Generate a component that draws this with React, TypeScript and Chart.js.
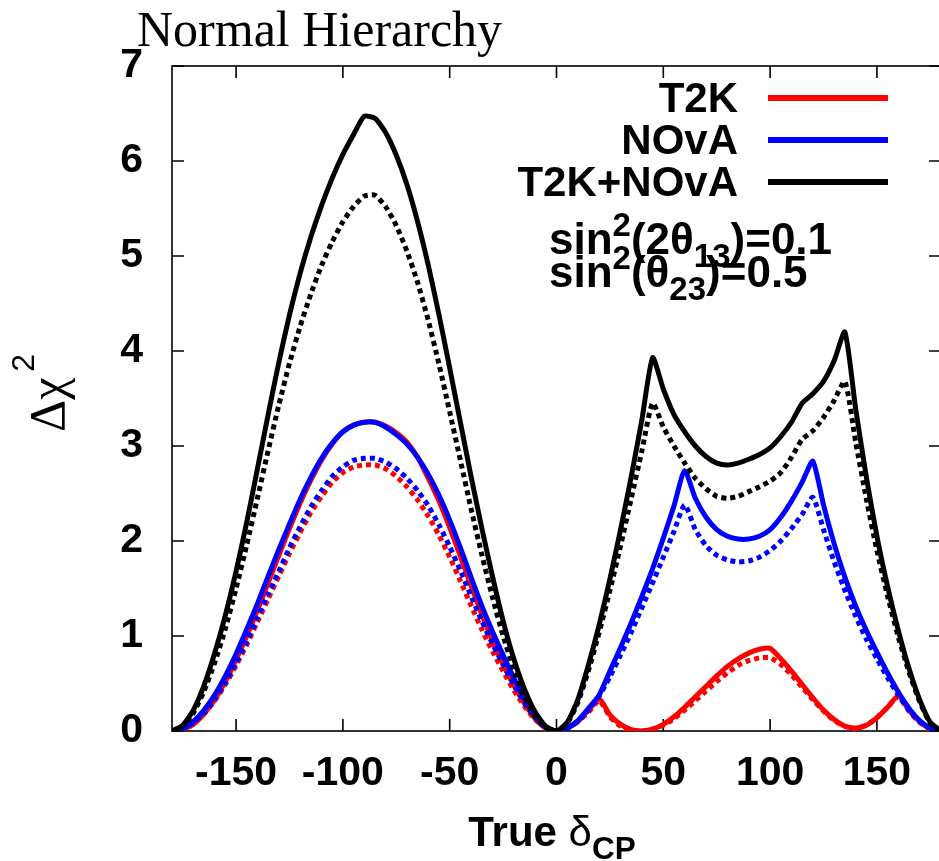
import React, { useEffect, useRef } from 'react';
import { Chart, registerables } from 'chart.js';

Chart.register(...registerables);

// True delta_CP grid (degrees)
const deltaCP = [
  -180, -175, -170, -165, -160, -155, -150, -145, -140, -135, -130, -125, -120, -115, -110, -105, -100, -95, -90,
  -85, -80, -75, -70, -65, -60, -55, -50, -45, -40, -35, -30, -25, -20, -15, -10, -5, 0,
  5, 10, 15, 20, 25, 30, 35, 40, 45, 50, 55, 60, 65, 70, 75, 80, 85, 90,
  95, 100, 105, 110, 115, 120, 125, 130, 135, 140, 145, 150, 155, 160, 165, 170, 175, 180,
];

// T2K (red)
const t2kSolid = [
  0, 0.02, 0.07, 0.18, 0.33, 0.52, 0.75, 1.0, 1.27, 1.56, 1.85, 2.13, 2.4, 2.64, 2.85, 3.02, 3.15, 3.22, 3.25,
  3.25, 3.21, 3.14, 3.04, 2.88, 2.66, 2.42, 2.14, 1.84, 1.53, 1.23, 0.95, 0.7, 0.48, 0.29, 0.13, 0.03, 0,
  0.03, 0.1, 0.22, 0.34, 0.17, 0.07, 0.015, 0.0, 0.02, 0.07, 0.15, 0.25, 0.36, 0.47, 0.58, 0.68, 0.76, 0.82,
  0.86, 0.87, 0.76, 0.63, 0.49, 0.35, 0.22, 0.12, 0.05, 0.03, 0.06, 0.14, 0.25, 0.37, 0.22, 0.1, 0.02, 0,
];
const t2kDotted = [
  0, 0.02, 0.08, 0.18, 0.32, 0.49, 0.69, 0.91, 1.15, 1.39, 1.63, 1.87, 2.09, 2.3, 2.47, 2.62, 2.72, 2.78, 2.8,
  2.8, 2.76, 2.68, 2.57, 2.43, 2.26, 2.06, 1.83, 1.58, 1.32, 1.07, 0.84, 0.63, 0.43, 0.26, 0.12, 0.03, 0,
  0.03, 0.1, 0.2, 0.32, 0.15, 0.05, 0.01, 0.0, 0.02, 0.06, 0.13, 0.22, 0.32, 0.42, 0.52, 0.61, 0.69, 0.74,
  0.77, 0.77, 0.7, 0.59, 0.46, 0.33, 0.21, 0.11, 0.05, 0.03, 0.06, 0.14, 0.25, 0.36, 0.21, 0.09, 0.02, 0,
];

// NOvA (blue)
const novaSolid = [
  0, 0.025, 0.1, 0.22, 0.38, 0.58, 0.81, 1.07, 1.34, 1.63, 1.91, 2.18, 2.44, 2.67, 2.87, 3.03, 3.15, 3.22, 3.25,
  3.25, 3.2, 3.12, 3.02, 2.88, 2.7, 2.48, 2.22, 1.93, 1.62, 1.32, 1.05, 0.8, 0.56, 0.34, 0.16, 0.04, 0,
  0.03, 0.11, 0.24, 0.38, 0.63, 0.88, 1.14, 1.42, 1.71, 2.03, 2.37, 2.74, 2.45, 2.25, 2.12, 2.05, 2.02, 2.02,
  2.05, 2.12, 2.25, 2.42, 2.62, 2.84, 2.38, 1.97, 1.62, 1.32, 1.06, 0.83, 0.61, 0.41, 0.24, 0.11, 0.03, 0,
];
const novaDotted = [
  0, 0.02, 0.087, 0.19, 0.34, 0.51, 0.72, 0.94, 1.19, 1.44, 1.68, 1.93, 2.15, 2.36, 2.53, 2.68, 2.78, 2.85, 2.87,
  2.87, 2.83, 2.76, 2.66, 2.53, 2.37, 2.17, 1.94, 1.69, 1.42, 1.16, 0.92, 0.7, 0.49, 0.3, 0.14, 0.035, 0,
  0.03, 0.1, 0.22, 0.37, 0.57, 0.8, 1.04, 1.3, 1.56, 1.83, 2.1, 2.38, 2.12, 1.95, 1.85, 1.8, 1.78, 1.79,
  1.83, 1.9, 2.0, 2.13, 2.28, 2.46, 2.12, 1.78, 1.48, 1.21, 0.97, 0.76, 0.56, 0.38, 0.22, 0.1, 0.03, 0,
];

// T2K+NOvA (black)
const combinedSolid = [
  0, 0.06, 0.22, 0.48, 0.82, 1.22, 1.68, 2.2, 2.76, 3.33, 3.88, 4.38, 4.82, 5.2, 5.53, 5.82, 6.07, 6.28, 6.47,
  6.45, 6.3, 6.06, 5.75, 5.36, 4.9, 4.38, 3.82, 3.25, 2.68, 2.14, 1.63, 1.16, 0.76, 0.44, 0.2, 0.05, 0,
  0.09, 0.33, 0.7, 1.12, 1.6, 2.12, 2.68, 3.28, 3.93, 3.6, 3.33, 3.15, 3.0, 2.89, 2.82, 2.8, 2.82, 2.86,
  2.91, 2.98, 3.1, 3.25, 3.45, 3.55, 3.68, 3.9, 4.2, 3.4, 2.68, 2.05, 1.52, 1.06, 0.66, 0.33, 0.09, 0,
];
const combinedDotted = [
  0, 0.05, 0.19, 0.42, 0.72, 1.08, 1.5, 1.96, 2.45, 2.95, 3.43, 3.87, 4.26, 4.6, 4.9, 5.15, 5.36, 5.52, 5.63,
  5.64, 5.52, 5.32, 5.05, 4.72, 4.32, 3.86, 3.36, 2.85, 2.34, 1.86, 1.41, 1.0, 0.65, 0.36, 0.15, 0.035, 0,
  0.08, 0.3, 0.64, 1.04, 1.48, 1.95, 2.45, 2.95, 3.45, 3.2, 3.0, 2.82, 2.66, 2.55, 2.47, 2.45, 2.47, 2.52,
  2.57, 2.63, 2.72, 2.88, 3.07, 3.16, 3.3, 3.48, 3.68, 3.05, 2.45, 1.9, 1.42, 0.99, 0.62, 0.31, 0.08, 0,
];

const xTickValues = [-150, -100, -50, 0, 50, 100, 150];
const yTickValues = [0, 1, 2, 3, 4, 5, 6, 7];
const legendLabels = ['T2K', 'NOvA', 'T2K+NOvA'];
const seriesColors = ['#ff0000', '#0000ff', '#000000'];
const titleText = 'Normal Hierarchy';

const SANS = '"Liberation Sans", Arial, Helvetica, sans-serif';
const SERIF = '"Liberation Serif", "Times New Roman", serif';

type Piece = { t: string; k: 'n' | 'sup' | 'sub' | 'sym' };

function pieceFont(p: Piece, size: number) {
  const fs = p.k === 'sup' || p.k === 'sub' ? size * 0.75 : size;
  const weight = p.k === 'sym' ? '' : 'bold ';
  return `${weight}${fs}px ${SANS}`;
}

function drawRich(ctx: CanvasRenderingContext2D, x: number, y: number, pieces: Piece[], size: number) {
  let cx = x;
  for (const p of pieces) {
    let dy = 0;
    if (p.k === 'sup') dy = -size * 0.42;
    if (p.k === 'sub') dy = size * 0.3;
    ctx.font = pieceFont(p, size);
    ctx.fillText(p.t, cx, y + dy);
    cx += ctx.measureText(p.t).width;
  }
  return cx - x;
}

function measureRich(ctx: CanvasRenderingContext2D, pieces: Piece[], size: number) {
  let w = 0;
  for (const p of pieces) {
    ctx.font = pieceFont(p, size);
    w += ctx.measureText(p.t).width;
  }
  return w;
}

const framePlugin = {
  id: 'frameTicks',
  beforeDatasetsDraw(chart: any) {
    const { ctx, chartArea: a, scales } = chart;
    const xs = scales.x;
    const ys = scales.y;
    ctx.save();
    ctx.strokeStyle = '#000';
    ctx.lineWidth = 1.6;
    ctx.strokeRect(a.left, a.top, a.right - a.left, a.bottom - a.top);
    const L = 12;
    ctx.beginPath();
    for (const v of xTickValues) {
      const px = xs.getPixelForValue(v);
      ctx.moveTo(px, a.bottom);
      ctx.lineTo(px, a.bottom - L);
      ctx.moveTo(px, a.top);
      ctx.lineTo(px, a.top + L);
    }
    for (const v of yTickValues) {
      const py = ys.getPixelForValue(v);
      ctx.moveTo(a.left, py);
      ctx.lineTo(a.left + L, py);
      ctx.moveTo(a.right, py);
      ctx.lineTo(a.right - L, py);
    }
    ctx.stroke();
    ctx.restore();
  },
};

const textPlugin = {
  id: 'texts',
  afterDraw(chart: any) {
    const ctx: CanvasRenderingContext2D = chart.ctx;
    ctx.save();
    ctx.fillStyle = '#000';

    // Title
    ctx.font = `50px ${SERIF}`;
    ctx.textAlign = 'left';
    ctx.textBaseline = 'alphabetic';
    ctx.fillText(titleText, 137, 46);

    // Legend
    ctx.textAlign = 'right';
    legendLabels.forEach((lab, i) => {
      const yc = 97 + i * 42;
      ctx.font = `bold 42px ${SANS}`;
      ctx.fillText(lab, 738, yc + 15);
      ctx.strokeStyle = seriesColors[i];
      ctx.lineWidth = 6;
      ctx.beginPath();
      ctx.moveTo(768, yc + 1);
      ctx.lineTo(888, yc + 1);
      ctx.stroke();
    });

    // Parameter annotation
    ctx.textAlign = 'left';
    drawRich(ctx, 549, 254, [
      { t: 'sin', k: 'n' }, { t: '2', k: 'sup' }, { t: '(2θ', k: 'n' }, { t: '13', k: 'sub' }, { t: ')=0.1', k: 'n' },
    ], 44);
    drawRich(ctx, 549, 287, [
      { t: 'sin', k: 'n' }, { t: '2', k: 'sup' }, { t: '(θ', k: 'n' }, { t: '23', k: 'sub' }, { t: ')=0.5', k: 'n' },
    ], 44);

    // X axis title
    const xt: Piece[] = [{ t: 'True ', k: 'n' }, { t: 'δ', k: 'sym' }, { t: 'CP', k: 'sub' }];
    const w = measureRich(ctx, xt, 42);
    drawRich(ctx, 552 - w / 2, 846, xt, 42);

    // Y axis title (rotated)
    ctx.translate(64, 432);
    ctx.rotate(-Math.PI / 2);
    ctx.font = `50px ${SERIF}`;
    ctx.fillText('Δχ', 0, 0);
    const wy = ctx.measureText('Δχ').width;
    ctx.font = `32px ${SANS}`;
    ctx.fillText('2', wy + 6, -30);

    ctx.restore();
  },
};

function buildDataset(label: string, values: number[], color: string, dashed: boolean, order: number) {
  return {
    label,
    data: deltaCP.map((x, i) => ({ x, y: values[i] })),
    borderColor: color,
    backgroundColor: color,
    borderWidth: 5,
    borderDash: dashed ? [5, 4] : [],
    borderCapStyle: 'butt',
    borderJoinStyle: 'round',
    pointRadius: 0,
    tension: 0.2,
    fill: false,
    order,
  };
}

export default function App() {
  const canvasRef = useRef<HTMLCanvasElement | null>(null);

  useEffect(() => {
    if (!canvasRef.current) return;
    const chart = new Chart(canvasRef.current, {
      type: 'line',
      data: {
        datasets: [
          buildDataset('T2K+NOvA', combinedSolid, seriesColors[2], false, 1),
          buildDataset('T2K+NOvA (dotted)', combinedDotted, seriesColors[2], true, 2),
          buildDataset('NOvA', novaSolid, seriesColors[1], false, 3),
          buildDataset('NOvA (dotted)', novaDotted, seriesColors[1], true, 4),
          buildDataset('T2K', t2kSolid, seriesColors[0], false, 5),
          buildDataset('T2K (dotted)', t2kDotted, seriesColors[0], true, 6),
        ] as any,
      },
      options: {
        animation: false,
        responsive: true,
        maintainAspectRatio: false,
        layout: { padding: { top: 66, right: 1, left: 0, bottom: 0 } },
        plugins: {
          legend: { display: false },
          tooltip: { enabled: false },
          title: { display: false },
        },
        scales: {
          x: {
            type: 'linear',
            min: -180,
            max: 180,
            grid: { display: false, drawTicks: false },
            border: { display: false },
            afterBuildTicks: (axis: any) => {
              axis.ticks = xTickValues.map((v) => ({ value: v }));
            },
            afterFit: (axis: any) => {
              axis.height = 130;
            },
            ticks: {
              autoSkip: false,
              maxRotation: 0,
              padding: 18,
              color: '#000',
              font: { family: SANS, size: 41, weight: 'bold' },
            },
          },
          y: {
            type: 'linear',
            min: 0,
            max: 7,
            grid: { display: false, drawTicks: false },
            border: { display: false },
            afterBuildTicks: (axis: any) => {
              axis.ticks = yTickValues.map((v) => ({ value: v }));
            },
            afterFit: (axis: any) => {
              axis.width = 172;
            },
            ticks: {
              padding: 29,
              color: '#000',
              font: { family: SANS, size: 41, weight: 'bold' },
            },
          },
        },
      } as any,
      plugins: [framePlugin, textPlugin],
    });
    return () => chart.destroy();
  }, []);

  return (
    <div style={{ position: 'absolute', left: 0, top: 0, width: 939, height: 861, overflow: 'hidden', background: '#fff' }}>
      <div style={{ position: 'relative', width: 942, height: 861 }}>
        <canvas ref={canvasRef} />
      </div>
    </div>
  );
}
